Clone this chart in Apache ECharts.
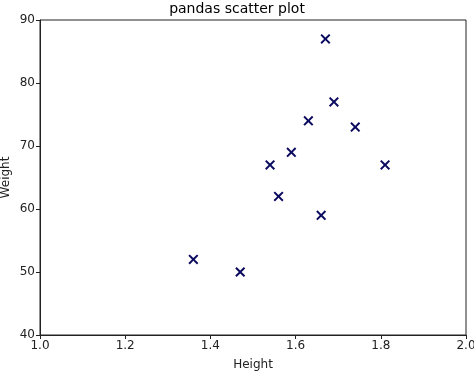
<!DOCTYPE html>
<html><head><meta charset="utf-8">
<script src="https://cdn.jsdelivr.net/npm/echarts@6/dist/echarts.min.js"></script>
<style>html,body{margin:0;padding:0;background:#fff}#c{width:474px;height:372px}</style>
</head><body><div id="c"></div>
<script>
const heights = [1.36, 1.47, 1.54, 1.56, 1.59, 1.63, 1.66, 1.67, 1.69, 1.74, 1.81];
const weights = [52, 50, 67, 62, 69, 74, 59, 87, 77, 73, 67];
const xTicks = [1.0, 1.2, 1.4, 1.6, 1.8, 2.0];
const yTicks = [40, 50, 60, 70, 80, 90];
const font = 'DejaVu Sans';
const chart = echarts.init(document.getElementById('c'), null, {renderer:'canvas'});
const axisLine = {show:true, lineStyle:{color:'#222', width:1}};
chart.setOption({
  animation:false,
  title:{text:'pandas scatter plot', left:'center', top:-3, textStyle:{fontFamily:font, fontSize:14, fontWeight:'normal', color:'#000'}},
  grid:{left:40, right:8, top:20, bottom:37, show:true, borderColor:'#222', borderWidth:1, containLabel:false, outerBoundsMode:'none'},
  xAxis:{type:'value', min:1.0, max:2.0, interval:0.2, name:'Height', nameLocation:'middle', nameGap:24, nameMoveOverlap:false,
    nameTextStyle:{fontFamily:font, fontSize:12, color:'#222'},
    axisLine:axisLine, axisTick:{show:true, inside:false, length:4, lineStyle:{color:'#222'}},
    splitLine:{show:false},
    axisLabel:{fontFamily:font, fontSize:12, color:'#222', margin:5, showMaxLabel:true, formatter:v=>v.toFixed(1)}},
  yAxis:{type:'value', min:40, max:90, interval:10, name:'Weight', nameLocation:'middle', nameGap:28, nameMoveOverlap:false,
    nameTextStyle:{fontFamily:font, fontSize:12, color:'#222'},
    axisLine:axisLine, axisTick:{show:true, inside:false, length:4, lineStyle:{color:'#222'}},
    splitLine:{show:false},
    axisLabel:{fontFamily:font, fontSize:12, color:'#222', margin:5}},
  series:[{type:'scatter', data:heights.map((h,i)=>[h, weights[i]]),
    symbol:'path://M0,1.4L1.4,0L5,3.6L8.6,0L10,1.4L6.4,5L10,8.6L8.6,10L5,6.4L1.4,10L0,8.6L3.6,5Z', symbolSize:10,
    itemStyle:{color:'#0a0a5e', opacity:1}}]
});
</script></body></html>
